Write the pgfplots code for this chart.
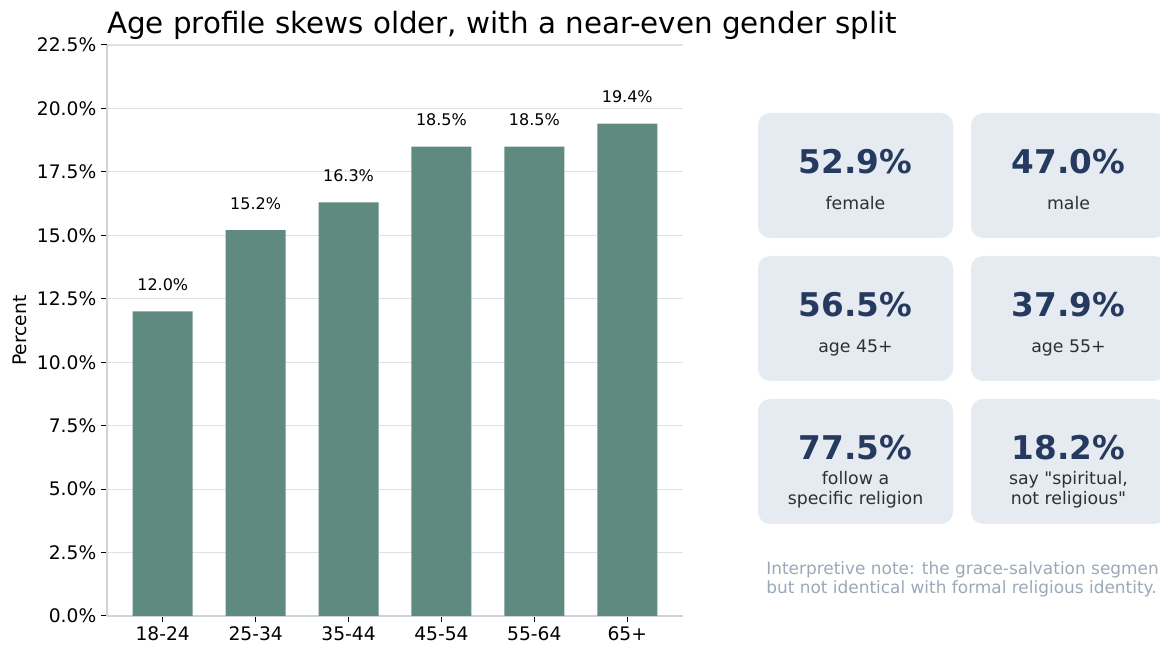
\documentclass[border=0pt]{standalone}
\usepackage{pgfplots}
\pgfplotsset{compat=1.18}
\usepackage{fontspec}
\setmainfont{DejaVu Sans}
\newfontfamily\rawfont{DejaVu Sans}
\definecolor{barc}{RGB}{95,138,128}
\definecolor{cardc}{RGB}{230,235,242}
\definecolor{numc}{RGB}{37,58,94}
\definecolor{labc}{RGB}{45,48,54}
\definecolor{notec}{RGB}{154,168,184}
\definecolor{gridc}{RGB}{222,226,231}
\definecolor{spinec}{RGB}{205,212,220}
\begin{document}
\begin{tikzpicture}[x=0.75pt,y=0.75pt]
\path[use as bounding box] (0,0) rectangle (1160,656);
\clip (0,0) rectangle (1160,656);
% title
\node[anchor=base west,font=\fontsize{22}{26}\selectfont,inner sep=0pt] at (107,622) {Age profile skews older, with a near-even gender split};
\begin{axis}[
  at={(80.25pt,30pt)}, anchor=south west,
  scale only axis, width=432pt, height=428.25pt,
  xmin=-0.6, xmax=5.6, ymin=0, ymax=22.5,
  axis x line*=bottom, axis y line*=left,
  axis line style={spinec, line width=0.9pt},
  xtick=data, xticklabels={18-24,25-34,35-44,45-54,55-64,65+},
  ytick={0,2.5,5,7.5,10,12.5,15,17.5,20,22.5},
  yticklabel={\pgfmathprintnumber[fixed,fixed zerofill,precision=1]{\tick}\%},
  /pgf/number format/assume math mode=true,
  tick align=outside, major tick length=4.5pt,
  tick style={black, line width=0.75pt},
  ticklabel style={font=\fontsize{14}{16}\selectfont},
  ymajorgrids, grid style={gridc, line width=0.8pt},
  ylabel={Percent}, ylabel style={font=\fontsize{14}{16}\selectfont, yshift=1pt},
  ybar, bar width=45pt,
  nodes near coords={\pgfmathprintnumber[fixed,fixed zerofill,precision=1]{\pgfplotspointmeta}\%},
  nodes near coords style={font=\fontsize{12}{14}\selectfont, black, yshift=12pt},
  clip=false,
]
\addplot[fill=barc, draw=none] coordinates {(0,12.0) (1,15.2) (2,16.3) (3,18.5) (4,18.5) (5,19.4)};
\end{axis}
% cards
\foreach \cx/\cy in {758/418,971/418,758/275,971/275,758/132,971/132}{
  \fill[cardc, rounded corners=9pt] (\cx,\cy) rectangle ++(195,125);
}
\def\numfont{\fontsize{24.5}{29}\selectfont\bfseries}
\def\labfont{\fontsize{13}{15}\selectfont}
\def\notefont{\fontsize{12.7}{15}\selectfont}
\node[anchor=base, font=\numfont, text=numc, inner sep=0pt] at (855.5,482) {52.9\%};
\node[anchor=base, font=\numfont, text=numc, inner sep=0pt] at (1068.5,482) {47.0\%};
\node[anchor=base, font=\labfont, text=labc, inner sep=0pt] at (855.5,446) {female};
\node[anchor=base, font=\labfont, text=labc, inner sep=0pt] at (1068.5,446) {male};
\node[anchor=base, font=\numfont, text=numc, inner sep=0pt] at (855.5,339) {56.5\%};
\node[anchor=base, font=\numfont, text=numc, inner sep=0pt] at (1068.5,339) {37.9\%};
\node[anchor=base, font=\labfont, text=labc, inner sep=0pt] at (855.5,303) {age 45+};
\node[anchor=base, font=\labfont, text=labc, inner sep=0pt] at (1068.5,303) {age 55+};
\node[anchor=base, font=\numfont, text=numc, inner sep=0pt] at (855.5,196) {77.5\%};
\node[anchor=base, font=\numfont, text=numc, inner sep=0pt] at (1068.5,196) {18.2\%};
\node[anchor=base, font=\labfont, text=labc, inner sep=0pt] at (855.5,171) {follow a};
\node[anchor=base, font=\labfont, text=labc, inner sep=0pt] at (855.5,151) {specific religion};
\node[anchor=base, font=\labfont\rawfont, text=labc, inner sep=0pt] at (1068.5,171) {say "spiritual,};
\node[anchor=base, font=\labfont\rawfont, text=labc, inner sep=0pt] at (1068.5,151) {not religious"};
% note
\node[anchor=base west, font=\notefont, text=notec, inner sep=0pt] at (766,81) {Interpretive note: the grace-salvation segmen};
\node[anchor=base west, font=\notefont, text=notec, inner sep=0pt] at (766,62) {but not identical with formal religious identity.};
\end{tikzpicture}
\end{document}
